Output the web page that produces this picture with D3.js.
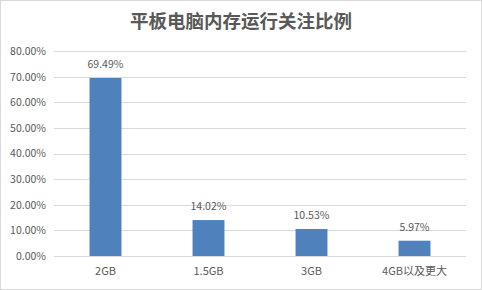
<!DOCTYPE html>
<html>
<head>
<meta charset="utf-8">
<script src="https://cdn.jsdelivr.net/npm/d3@7"></script>
<style>
  body { margin: 0; background: #fff; }
  text { font-family: "Noto Sans CJK SC", "Liberation Sans", sans-serif; fill: #595959; }
</style>
</head>
<body>
<div class="bar_chart"></div>
<script>
var categories = ["2GB", "1.5GB", "3GB", "4GB以及更大"];
var values = [0.6949, 0.1402, 0.1053, 0.0597];
var yTicks = [0, 0.1, 0.2, 0.3, 0.4, 0.5, 0.6, 0.7, 0.8];
var title = "平板电脑内存运行关注比例";

var W = 482, H = 290;
var margin = {top: 51, right: 16, bottom: 34, left: 54},
    width = W - margin.left - margin.right,
    height = H - margin.top - margin.bottom;

var svg = d3.select(".bar_chart")
    .append("svg")
    .attr("width", W)
    .attr("height", H);

// outer border
svg.append("rect")
    .attr("x", 0.5).attr("y", 0.5)
    .attr("width", W - 1).attr("height", H - 1)
    .attr("fill", "#fff")
    .attr("stroke", "#d9d9d9");

svg.append("text")
    .attr("x", W / 2)
    .attr("y", 22)
    .attr("dy", "0.35em")
    .attr("text-anchor", "middle")
    .attr("font-size", 18.5)
    .attr("font-weight", 600)
    .text(title);

var g = svg.append("g")
    .attr("transform", "translate(" + margin.left + "," + margin.top + ")");

var x = d3.scaleBand()
    .domain(categories)
    .range([0, width])
    .paddingInner(0.69)
    .paddingOuter(0.345);

var y = d3.scaleLinear()
    .domain([0, 0.8])
    .range([height, 0]);

var fmt = d3.format(".2%");

// gridlines
g.append("g")
    .selectAll("line")
    .data(yTicks)
    .enter().append("line")
    .attr("x1", 0)
    .attr("x2", width)
    .attr("y1", function(d) { return Math.round(y(d)) + 0.5; })
    .attr("y2", function(d) { return Math.round(y(d)) + 0.5; })
    .attr("stroke", "#d9d9d9");

// y axis labels
var yAxis = g.append("g")
    .call(d3.axisLeft(y).tickValues(yTicks).tickFormat(fmt).tickSize(0).tickPadding(8));
yAxis.select(".domain").remove();
yAxis.selectAll("text")
    .attr("font-size", 10.5)
    .attr("font-family", "\"Liberation Sans\", sans-serif")
    .style("fill", "#595959");

// x axis labels
var xAxis = g.append("g")
    .attr("transform", "translate(0," + height + ")")
    .call(d3.axisBottom(x).tickSize(0).tickPadding(11));
xAxis.select(".domain").remove();
xAxis.selectAll("text")
    .attr("font-size", 11)
    .style("fill", "#595959");

var data = categories.map(function(c, i) { return {cat: c, v: values[i]}; });

g.append("g")
    .selectAll("rect")
    .data(data)
    .enter().append("rect")
    .attr("x", function(d) { return x(d.cat); })
    .attr("y", function(d) { return y(d.v); })
    .attr("width", x.bandwidth())
    .attr("height", function(d) { return y(0) - y(d.v); })
    .attr("fill", "#4f81bd");

g.append("g")
    .selectAll("text")
    .data(data)
    .enter().append("text")
    .attr("x", function(d) { return x(d.cat) + x.bandwidth() / 2; })
    .attr("y", function(d) { return y(d.v) - 10; })
    .attr("text-anchor", "middle")
    .attr("font-size", 10.5)
    .attr("font-family", "\"Liberation Sans\", sans-serif")
    .text(function(d) { return fmt(d.v); });
</script>
</body>
</html>
